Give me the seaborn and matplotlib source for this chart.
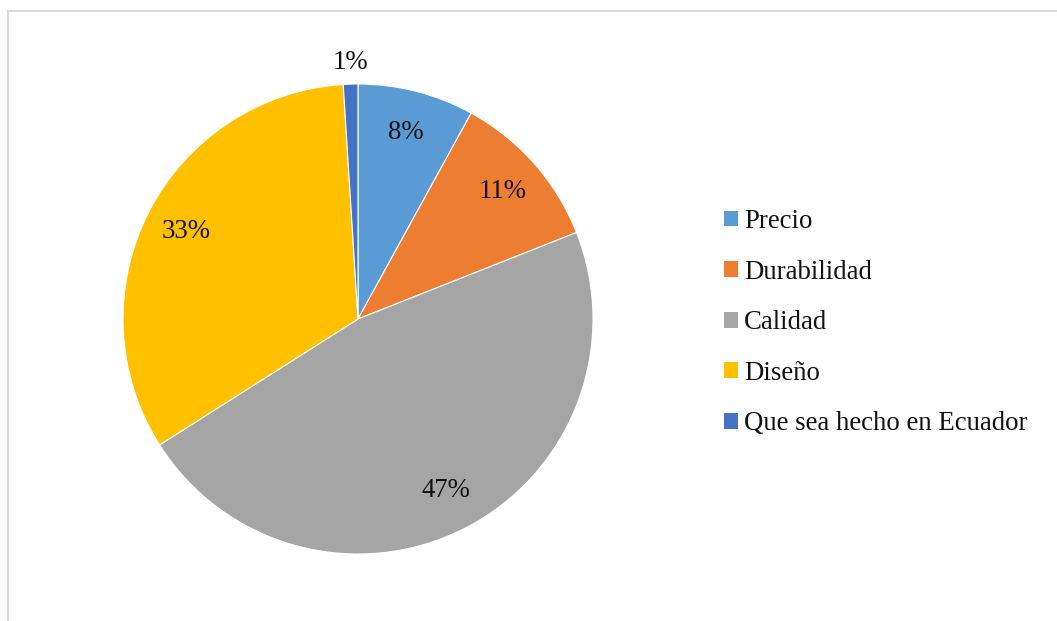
import numpy as np
import matplotlib
matplotlib.use("Agg")
import matplotlib.pyplot as plt
from matplotlib.patches import Rectangle, Patch
import seaborn as sns

categories = ["Precio", "Durabilidad", "Calidad", "Diseño", "Que sea hecho en Ecuador"]
values = [8, 11, 47, 33, 1]
colors = ["#5B9BD5", "#ED7D31", "#A5A5A5", "#FFC000", "#4472C4"]

sns.set_theme(style="white")
plt.rcParams["font.family"] = ["Liberation Serif", "DejaVu Serif"]

W, H = 1057, 621
fig = plt.figure(figsize=(W / 100, H / 100), dpi=100)
fig.patch.set_facecolor("white")

# light outer frame of the chart area
fig.patches.append(Rectangle((7.5 / W, -0.05), 1.2, (H - 11) / H + 0.05,
                             transform=fig.transFigure, fill=False,
                             edgecolor="#d9d9d9", linewidth=1.5))

cx, cy, r = 358, 319, 235
ax = fig.add_axes([(cx - r) / W, (H - cy - r) / H, 2 * r / W, 2 * r / H])
wedges, texts, autotexts = ax.pie(
    values, colors=colors, startangle=90, counterclock=False,
    autopct="%1.0f%%", pctdistance=0.82,
    wedgeprops=dict(edgecolor="white", linewidth=0.8),
    textprops=dict(fontsize=19.3, color="#111111"),
)
# small slice gets its label just outside the rim
for w, t, v in zip(wedges, autotexts, values):
    if v < 3:
        ang = np.deg2rad((w.theta1 + w.theta2) / 2)
        t.set_position((1.09 * np.cos(ang), 1.09 * np.sin(ang)))
ax.set_xlim(-1, 1)
ax.set_ylim(-1, 1)
ax.set_aspect("equal")
ax.axis("off")

handles = [Patch(facecolor=c, edgecolor="none") for c in colors]
fig.legend(handles, categories, loc="upper left",
           bbox_to_anchor=(724 / W, 1 - 209 / H),
           frameon=False, fontsize=19.3, handlelength=0.54, handleheight=0.54,
           handletextpad=0.2, labelspacing=0.955, borderaxespad=0, borderpad=0,
           labelcolor="#111111")

fig.savefig("out.png", dpi=100, facecolor="white")
